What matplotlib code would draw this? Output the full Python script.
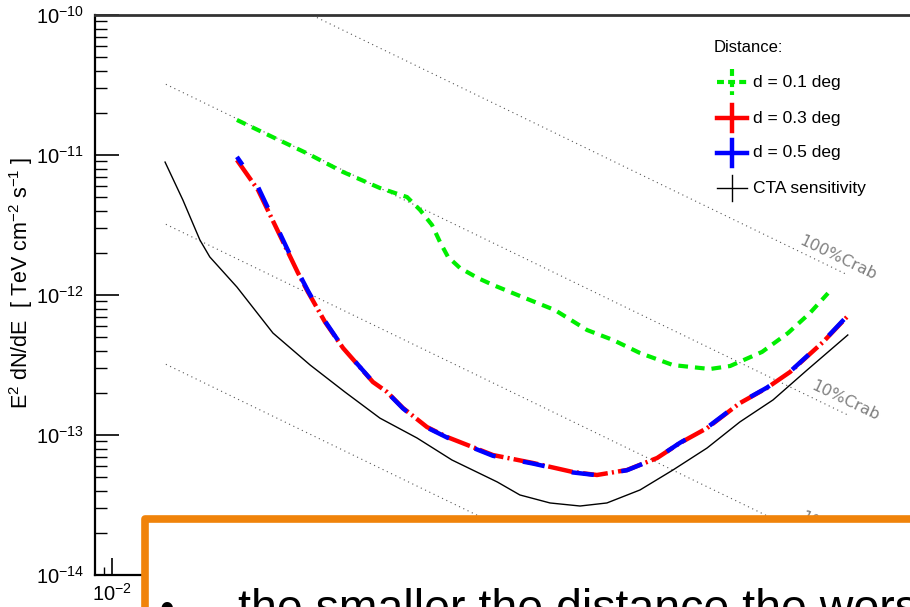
import matplotlib
matplotlib.use("Agg")
import matplotlib.pyplot as plt
from matplotlib.lines import Line2D
from matplotlib.patches import Rectangle

plt.rcParams['font.family'] = ['Liberation Sans', 'DejaVu Sans']
plt.rcParams['mathtext.fontset'] = 'custom'
plt.rcParams['mathtext.rm'] = 'Liberation Sans'
plt.rcParams['mathtext.it'] = 'Liberation Sans:italic'
plt.rcParams['mathtext.bf'] = 'Liberation Sans:bold'
plt.rcParams['lines.scale_dashes'] = False

# ---------------- data ----------------
cta_E = [0.0198, 0.0249, 0.031, 0.0352, 0.0499, 0.0793, 0.128, 0.2, 0.314, 0.506,
         0.793, 1.42, 1.9, 2.8, 4.12, 5.82, 8.91, 13.6, 21.1, 32.2, 49.3, 76.4, 129]
cta_F = [8.9e-12, 4.77e-12, 2.47e-12, 1.87e-12, 1.14e-12, 5.35e-13, 3.16e-13, 2.03e-13,
         1.32e-13, 9.52e-14, 6.63e-14, 4.62e-14, 3.73e-14, 3.27e-14, 3.11e-14, 3.27e-14,
         4.05e-14, 5.62e-14, 8.07e-14, 1.24e-13, 1.78e-13, 2.91e-13, 5.18e-13]

d01_E = [0.0499, 0.0793, 0.1245, 0.1954, 0.314, 0.445, 0.526, 0.614, 0.68, 0.754, 0.879,
         1.109, 1.344, 1.9, 2.98, 4.51, 6.3, 8.91, 13.6, 21.9, 28.4, 42.8, 59.8, 79.3, 100]
d01_F = [1.78e-11, 1.34e-11, 1.02e-11, 7.56e-12, 5.81e-12, 5.01e-12, 4.05e-12, 3.16e-12,
         2.39e-12, 1.87e-12, 1.56e-12, 1.32e-12, 1.18e-12, 9.84e-13, 7.81e-13, 5.62e-13,
         4.77e-13, 3.85e-13, 3.16e-13, 2.96e-13, 3.11e-13, 3.92e-13, 5.35e-13, 7.44e-13, 1.03e-12]

d03_E = [0.0499, 0.0655, 0.1094, 0.1245, 0.155, 0.1954, 0.287, 0.344, 0.422, 0.575, 0.744,
         1.344, 2.25, 3.76, 5.12, 7.53, 11.1, 14.9, 21.1, 32.2, 45.6, 61.4, 93.8, 129]
d03_F = [9.21e-12, 5.62e-12, 1.44e-12, 1.05e-12, 6.41e-13, 4.18e-13, 2.39e-13, 2.03e-13,
         1.56e-13, 1.14e-13, 9.68e-14, 7.19e-14, 6.31e-14, 5.44e-14, 5.18e-14, 5.62e-14,
         6.85e-14, 8.77e-14, 1.12e-13, 1.69e-13, 2.17e-13, 2.82e-13, 4.61e-13, 7.08e-13]

d05_E = [0.0499, 0.0655, 0.1094, 0.1245, 0.155, 0.1954, 0.287, 0.344, 0.422, 0.575, 0.744,
         1.344, 2.25, 3.76, 5.12, 7.53, 11.1, 14.9, 21.1, 32.2, 45.6, 61.4, 93.8, 129]
d05_F = [9.7e-12, 5.9e-12, 1.47e-12, 1.07e-12, 6.5e-13, 4.2e-13, 2.4e-13, 2.02e-13,
         1.55e-13, 1.13e-13, 9.6e-14, 7.1e-14, 6.25e-14, 5.4e-14, 5.16e-14, 5.6e-14,
         6.85e-14, 8.8e-14, 1.13e-13, 1.7e-13, 2.18e-13, 2.84e-13, 4.65e-13, 7.15e-13]

crab_E = [0.02, 129]
crab100_F = [3.2e-10, 1.39e-12]
crab_fracs = [1.0, 0.1, 0.01, 0.001]
crab_labels = ['100%Crab', '10%Crab', '1%Crab']

legend_labels = ['d = 0.1 deg', 'd = 0.3 deg', 'd = 0.5 deg', 'CTA sensitivity']

# ---------------- figure ----------------
W, H = 910, 607
fig = plt.figure(figsize=(W / 100, H / 100), dpi=100)


def fx(px):
    return px / W


def fy(py):
    return 1 - py / H


ax_left, ax_top, ax_bottom, ax_right = 95, 15, 575, 1007
ax = fig.add_axes([fx(ax_left), fy(ax_bottom), (ax_right - ax_left) / W, (ax_bottom - ax_top) / H])
ax.set_xscale('log')
ax.set_yscale('log')
ax.set_xlim(0.00804, 1000)
ax.set_ylim(1e-14, 1e-10)

# Crab reference lines
for frac in crab_fracs:
    ax.plot(crab_E, [f * frac for f in crab100_F], color='#555555', lw=0.8,
            linestyle=(0, (0.8, 2.6)), zorder=1)

ax.plot(cta_E, cta_F, color='black', lw=1.0, zorder=3)
ax.plot(d01_E, d01_F, color='#00ee00', lw=3.0, linestyle=(0, (7, 5)), zorder=3)
ax.plot(d03_E, d03_F, color='#ff0000', lw=3.2, linestyle=(0, (18, 3, 1.5, 3)), zorder=4)
ax.plot(d05_E, d05_F, color='#0000ff', lw=3.2, linestyle=(9, (16, 20)), zorder=5)

# crab labels (left-anchored, pixel positions)
lab_px = [(800, 240), (812, 385), (801, 516)]
for (px, py), t in zip(lab_px, crab_labels):
    fig.text(fx(px), fy(py), t, rotation=-25.6, color='#808080', fontsize=11.5, ha='left',
             va='center', family='DejaVu Sans', rotation_mode='anchor', zorder=2)

# spines & ticks
ax.spines['top'].set_color('#333333')
ax.spines['top'].set_linewidth(2.0)
ax.spines['left'].set_linewidth(1.6)
ax.spines['bottom'].set_linewidth(1.6)
ax.spines['right'].set_visible(False)
ax.tick_params(axis='y', which='major', direction='in', length=17, width=1.2, labelsize=14.5, pad=8,
               right=False)
ax.tick_params(axis='y', which='minor', direction='in', length=8.5, width=1.0, right=False)
ax.tick_params(axis='x', which='major', direction='in', length=12, width=1.2, labelsize=14.5, pad=6,
               top=False)
ax.tick_params(axis='x', which='minor', direction='in', length=5.8, width=1.0, top=False)
ax.set_yticks([1e-14, 1e-13, 1e-12, 1e-11, 1e-10])
ax.set_yticklabels([r'$10^{-14}$', r'$10^{-13}$', r'$10^{-12}$', r'$10^{-11}$', r'$10^{-10}$'])
ax.set_xticks([1e-2, 1e-1, 1, 10, 100, 1000])
# only the first x label is visible in the reference (rest is hidden by the slide box)
ax.set_xticklabels([r'$10^{-2}$', '', '', '', '', ''])

fig.text(fx(21), fy(283), r'E$^{2}$ dN/dE  [ TeV cm$^{-2}$ s$^{-1}$ ]', rotation=90,
         ha='center', va='center', fontsize=15.5)

# legend (drawn manually, ROOT style)
fig.text(fx(714), fy(47), 'Distance:', fontsize=12, ha='left', va='center')
leg_y = [82, 118, 153, 188]
leg_styles = [dict(color='#00ee00', lw=3.0, linestyle=(0, (5, 3))),
              dict(color='#ff0000', lw=3.2, linestyle='-'),
              dict(color='#0000ff', lw=3.2, linestyle='-'),
              dict(color='black', lw=1.0, linestyle='-')]
for y, lab, st in zip(leg_y, legend_labels, leg_styles):
    fig.add_artist(Line2D([fx(717), fx(747)], [fy(y), fy(y)], transform=fig.transFigure, **st))
    fig.add_artist(Line2D([fx(732), fx(732)], [fy(y - 13), fy(y + 13)], transform=fig.transFigure, **st))
    fig.text(fx(753), fy(y), lab, fontsize=12.5, ha='left', va='center')

# slide overlay box
box = Rectangle((fx(145), fy(700)), fx(1100 - 145), fy(519) - fy(700), transform=fig.transFigure,
                facecolor='white', edgecolor='#f0830a', lw=5.5, joinstyle='round', zorder=20)
fig.add_artist(box)
fig.text(fx(167), fy(622), '\u2022', fontsize=30, ha='center', va='baseline', zorder=21)
fig.text(fx(238), fy(622), 'the smaller the distance the worse', fontsize=33.5, ha='left',
         va='baseline', zorder=21)

fig.savefig('out.png', dpi=100)
